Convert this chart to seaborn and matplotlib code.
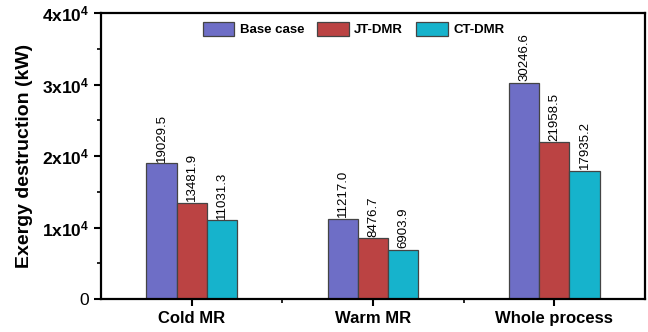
import pandas as pd
import matplotlib
import matplotlib.pyplot as plt
import seaborn as sns
from matplotlib.ticker import MultipleLocator, FixedLocator, FuncFormatter

matplotlib.use('Agg')

# Data
processes = ['Cold MR', 'Warm MR', 'Whole process']
cases = ['Base case', 'JT-DMR', 'CT-DMR']
base_case = [19029.5, 11217.0, 30246.6]
jt_dmr = [13481.9, 8476.7, 21958.5]
ct_dmr = [11031.3, 6903.9, 17935.2]
colors = ['#6e6ec6', '#bb4343', '#16b3cc']


def build_table():
    """Long-form table for seaborn."""
    rows = []
    for case, vals in zip(cases, [base_case, jt_dmr, ct_dmr]):
        for proc, v in zip(processes, vals):
            rows.append({'Process': proc, 'Case': case, 'Value': v})
    return pd.DataFrame(rows)


def y_fmt(v, pos):
    if v == 0:
        return '0'
    return r'$%dx10^{4}$' % round(v / 1e4)


def main():
    sns.set_style('ticks')
    plt.rcParams['font.family'] = ['Liberation Sans', 'DejaVu Sans']
    plt.rcParams['mathtext.fontset'] = 'custom'
    plt.rcParams['mathtext.bf'] = 'Liberation Sans:bold'
    plt.rcParams['mathtext.rm'] = 'Liberation Sans:bold'
    plt.rcParams['mathtext.default'] = 'bf'
    plt.rcParams['text.color'] = 'black'
    plt.rcParams['axes.labelcolor'] = 'black'
    plt.rcParams['xtick.color'] = 'black'
    plt.rcParams['ytick.color'] = 'black'

    df = build_table()

    fig = plt.figure(figsize=(6.48, 3.32), dpi=100)
    ax = fig.add_axes([0.1559, 0.0994, 0.8395, 0.8614])

    sns.barplot(data=df, x='Process', y='Value', hue='Case', palette=colors,
                width=0.5, edgecolor='#444444', linewidth=0.9, saturation=1,
                ax=ax)

    for cont in ax.containers:
        ax.bar_label(cont, fmt='%.1f', rotation=90, padding=1, fontsize=9.5,
                     color='black')

    ax.set_xlim(-0.5, 2.5)
    ax.set_ylim(0, 40000)
    ax.yaxis.set_major_locator(MultipleLocator(10000))
    ax.yaxis.set_minor_locator(MultipleLocator(5000))
    ax.yaxis.set_major_formatter(FuncFormatter(y_fmt))
    ax.xaxis.set_minor_locator(FixedLocator([0.5, 1.5]))

    ax.set_xlabel('')
    ax.set_ylabel('Exergy destruction (kW)', fontsize=14, fontweight='bold',
                  labelpad=6)
    ax.tick_params(axis='x', which='major', labelsize=12, length=5, width=1.5)
    ax.tick_params(axis='y', which='major', labelsize=12.5, length=5, width=1.5)
    ax.tick_params(axis='both', which='minor', length=3, width=1.2)
    for lbl in ax.get_xticklabels():
        lbl.set_fontweight('bold')
    for sp in ax.spines.values():
        sp.set_visible(True)
        sp.set_linewidth(1.6)
        sp.set_color('black')

    ax.legend(ncol=3, frameon=False, loc='upper left',
              bbox_to_anchor=(0.165, 1.01), handlelength=2.4, handleheight=1.2,
              handletextpad=0.4, columnspacing=1.0,
              prop={'size': 9.5, 'weight': 'bold'})

    plt.savefig('out.png', dpi=100)
    plt.close()


if __name__ == "__main__":
    main()
